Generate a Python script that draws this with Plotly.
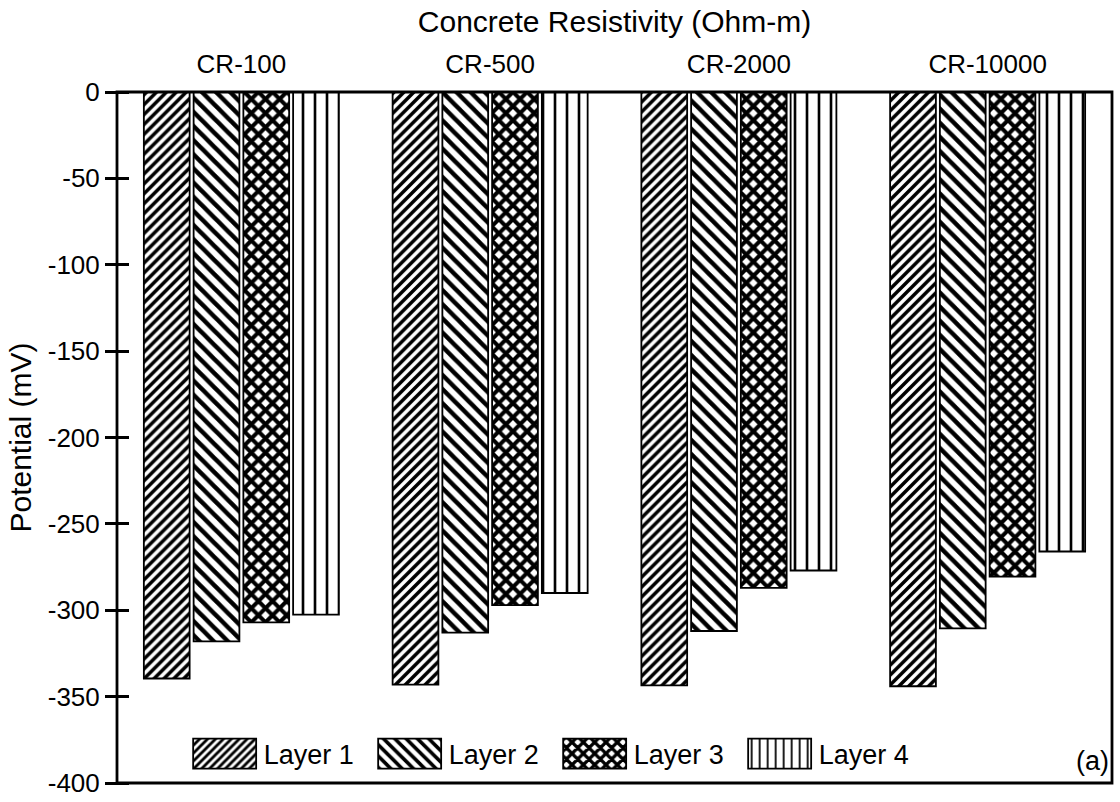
import plotly.graph_objects as go

# Concrete resistivity groups (top axis)
categories = ["CR-100", "CR-500", "CR-2000", "CR-10000"]

# Potential (mV) per layer
layer1 = [-339.5, -343.0, -343.5, -344.0]
layer2 = [-318.0, -313.0, -312.0, -310.5]
layer3 = [-307.0, -297.0, -287.0, -280.5]
layer4 = [-302.5, -290.0, -277.0, -266.0]

# y-axis ticks, written with a plain hyphen
y_ticks = [0, -50, -100, -150, -200, -250, -300, -350, -400]
y_tick_text = ["0", "-50", "-100", "-150", "-200", "-250", "-300", "-350", "-400"]

series = [
    ("Layer 1", layer1, "/", 7, 0.5),
    ("Layer 2", layer2, "\\", 10, 0.45),
    ("Layer 3", layer3, "x", 10, 0.65),
    ("Layer 4", layer4, "|", 12, 0.22),
]

FONT = "Liberation Sans, Arial, sans-serif"
PLOT_W = 1120 - 117 - 8  # plot-area width in px

fig = go.Figure()
for name, vals, shape, size, solid in series:
    fig.add_trace(go.Bar(
        x=categories, y=vals, name=name,
        marker=dict(
            color="white",
            line=dict(color="black", width=1.8),
            pattern=dict(shape=shape, size=size, solidity=solid,
                         fgcolor="black", bgcolor="white",
                         fillmode="replace", fgopacity=1),
        ),
    ))

fig.update_layout(
    width=1120, height=802,
    margin=dict(l=117, r=8, t=92, b=19),
    paper_bgcolor="white", plot_bgcolor="white",
    font=dict(family=FONT, size=26, color="black"),
    barmode="group", bargap=0.2, bargroupgap=0.08,
    xaxis=dict(
        side="top", showline=False, ticks="", showgrid=False, zeroline=False,
        automargin=False, tickfont=dict(size=26), ticklabelstandoff=13,
        title=dict(text="Concrete Resistivity (Ohm-m)", font=dict(size=30), standoff=7),
    ),
    # axis sits 12 px inside the frame so its 24 px ticks cross the left border
    yaxis=dict(
        range=[-400, 0], tickvals=y_ticks, ticktext=y_tick_text,
        anchor="free", position=12 / PLOT_W, showline=False, automargin=False,
        ticks="outside", ticklen=24, tickwidth=2.5, tickcolor="black",
        showgrid=False, zeroline=False, tickfont=dict(size=26),
        title=dict(text="Potential (mV)", font=dict(size=30), standoff=6),
    ),
    shapes=[dict(
        type="rect", xref="paper", yref="paper", x0=0, x1=1, y0=0, y1=1,
        line=dict(color="black", width=2.8), fillcolor="rgba(0,0,0,0)", layer="above",
    )],
    legend=dict(
        orientation="h", x=0.069, y=0.042, xanchor="left", yanchor="middle",
        font=dict(size=27), bgcolor="rgba(0,0,0,0)", itemwidth=68,
        entrywidth=102, entrywidthmode="pixels", traceorder="normal",
    ),
    annotations=[dict(
        text="(a)", xref="paper", yref="paper", x=0.999, y=0.032,
        xanchor="right", yanchor="middle", showarrow=False, font=dict(size=27),
    )],
)

# widen the legend swatches into 63 x 30 px boxes once the plot is drawn
swatch_js = """
var gd = document.getElementById('{plot_id}');
gd.querySelectorAll('g.legend g.legendpoints path').forEach(function (p) {
    p.setAttribute('d', 'M31.5,15H-31.5V-15H31.5Z');
});
"""

fig.write_html("out.html", post_script=swatch_js)
